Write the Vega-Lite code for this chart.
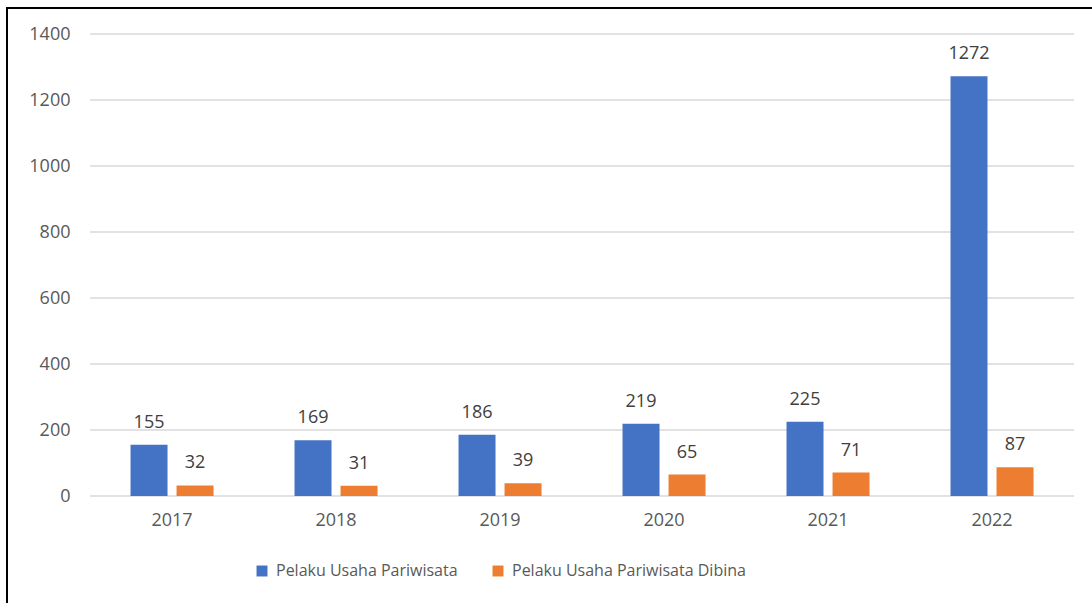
{
  "$schema": "https://vega.github.io/schema/vega-lite/v6.json",
  "width": 1085,
  "height": 595,
  "autosize": {"type": "none"},
  "padding": {"left": 7, "top": 8, "right": 0, "bottom": 0},
  "background": "white",
  "config": {
    "view": {"stroke": "#000000", "strokeWidth": 2, "strokeDash": [1085, 1680, 595]},
    "font": "Open Sans",
    "axis": {"labelFont": "Open Sans", "labelColor": "#595959", "labelFontSize": 18}
  },
  "encoding": {
    "x": {
      "field": "year", "type": "nominal", "title": null,
      "scale": {"paddingInner": 0, "paddingOuter": 0.308, "align": 0.822},
      "axis": {"labelAngle": 0, "domain": false, "ticks": false, "labelPadding": 15, "grid": false, "offset": -107}
    },
    "y": {
      "field": "value", "type": "quantitative", "title": null,
      "scale": {"domain": [-324.2, 1478.8], "nice": false, "zero": false},
      "axis": {"values": [0, 200, 400, 600, 800, 1000, 1200, 1400], "format": "d", "domain": false, "ticks": false, "labelPadding": 20, "grid": false, "offset": -83}
    }
  },
  "layer": [
    {
      "data": {
        "values": [
          {"grid": 0, "start": "2017", "end": "2022"},
          {"grid": 200, "start": "2017", "end": "2022"},
          {"grid": 400, "start": "2017", "end": "2022"},
          {"grid": 600, "start": "2017", "end": "2022"},
          {"grid": 800, "start": "2017", "end": "2022"},
          {"grid": 1000, "start": "2017", "end": "2022"},
          {"grid": 1200, "start": "2017", "end": "2022"},
          {"grid": 1400, "start": "2017", "end": "2022"}
        ]
      },
      "mark": {"type": "rule", "color": "#D9D9D9", "strokeWidth": 1.5},
      "encoding": {
        "x": {"field": "start", "type": "nominal", "bandPosition": 0},
        "x2": {"field": "end", "bandPosition": 1},
        "y": {"field": "grid", "type": "quantitative"}
      }
    },
    {
      "data": {
        "values": [
          {"year": "2017", "series": "Pelaku Usaha Pariwisata", "value": 155},
          {"year": "2017", "series": "Pelaku Usaha Pariwisata Dibina", "value": 32},
          {"year": "2018", "series": "Pelaku Usaha Pariwisata", "value": 169},
          {"year": "2018", "series": "Pelaku Usaha Pariwisata Dibina", "value": 31},
          {"year": "2019", "series": "Pelaku Usaha Pariwisata", "value": 186},
          {"year": "2019", "series": "Pelaku Usaha Pariwisata Dibina", "value": 39},
          {"year": "2020", "series": "Pelaku Usaha Pariwisata", "value": 219},
          {"year": "2020", "series": "Pelaku Usaha Pariwisata Dibina", "value": 65},
          {"year": "2021", "series": "Pelaku Usaha Pariwisata", "value": 225},
          {"year": "2021", "series": "Pelaku Usaha Pariwisata Dibina", "value": 71},
          {"year": "2022", "series": "Pelaku Usaha Pariwisata", "value": 1272},
          {"year": "2022", "series": "Pelaku Usaha Pariwisata Dibina", "value": 87}
        ]
      },
      "encoding": {
        "xOffset": {
          "field": "series", "type": "nominal",
          "scale": {"paddingInner": 0.196, "paddingOuter": 0.88}
        }
      },
      "layer": [
        {
          "mark": {"type": "bar"},
          "encoding": {
            "y2": {"datum": 0},
            "color": {
              "field": "series", "type": "nominal",
              "scale": {"domain": ["Pelaku Usaha Pariwisata", "Pelaku Usaha Pariwisata Dibina"], "range": ["#4472C4", "#ED7D31"]},
              "legend": {
                "title": null, "orient": "none", "direction": "horizontal",
                "legendX": 247, "legendY": 555,
                "symbolType": "square", "symbolSize": 120, "symbolStrokeWidth": 0,
                "labelFont": "Open Sans", "labelFontSize": 16, "labelColor": "#595959",
                "labelLimit": 0, "columnPadding": 32, "labelOffset": 6
              }
            }
          }
        },
        {
          "mark": {"type": "text", "baseline": "alphabetic", "dy": -17, "fontSize": 18, "color": "#404040", "font": "Open Sans"},
          "encoding": {"text": {"field": "value", "type": "quantitative"}}
        }
      ]
    }
  ]
}
